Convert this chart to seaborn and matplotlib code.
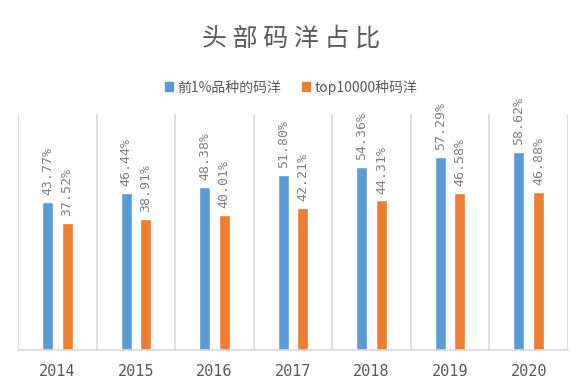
import numpy as np
import pandas as pd
import matplotlib
matplotlib.use("Agg")
import matplotlib.pyplot as plt
import seaborn as sns

# data
years = ["2014", "2015", "2016", "2017", "2018", "2019", "2020"]
top1pct = [43.77, 46.44, 48.38, 51.80, 54.36, 57.29, 58.62]
top10000 = [37.52, 38.91, 40.01, 42.21, 44.31, 46.58, 46.88]
series_names = ["前1%品种的码洋", "top10000种码洋"]

df = pd.DataFrame({
    "year": years * 2,
    "value": top1pct + top10000,
    "series": [series_names[0]] * len(years) + [series_names[1]] * len(years),
})

sns.set_theme(style="white")
plt.rcParams["font.family"] = ["Noto Sans CJK SC", "DejaVu Sans"]

BLUE = "#5B9BD5"
ORANGE = "#ED7D31"
GRAY_TXT = "#595959"
GRID = "#D9D9D9"

fig = plt.figure(figsize=(5.82, 3.82), dpi=100)
ax = fig.add_axes([0.031, 0.084, 0.945, 0.618])

sns.barplot(data=df, x="year", y="value", hue="series", order=years,
            hue_order=series_names, palette=[BLUE, ORANGE],
            width=0.5, gap=0.44, saturation=1, legend=False, ax=ax)

for cont in ax.containers:
    ax.bar_label(cont, labels=[f"{v:.2f}%" for v in cont.datavalues],
                 rotation=90, padding=5, fontsize=9.5, color="#808080",
                 family="DejaVu Sans Mono")

ax.set_ylim(0, 70)
ax.set_xlim(-0.5, len(years) - 0.5)
ax.set_yticks([])
ax.set_xlabel("")
ax.set_ylabel("")
for b in np.arange(-0.5, len(years), 1.0):
    ax.axvline(b, color=GRID, lw=1.2, zorder=0)
for s in ["top", "left", "right"]:
    ax.spines[s].set_visible(False)
ax.spines["bottom"].set_color(GRID)
ax.spines["bottom"].set_linewidth(1.2)
ax.tick_params(axis="x", length=0, pad=10, labelsize=11, labelcolor=GRAY_TXT)
for lbl in ax.get_xticklabels():
    lbl.set_family("DejaVu Sans Mono")

fig.text(0.5, 0.9, "头 部 码 洋 占 比", ha="center", va="center",
         fontsize=18, color=GRAY_TXT)

handles = [plt.Rectangle((0, 0), 1, 1, color=BLUE),
           plt.Rectangle((0, 0), 1, 1, color=ORANGE)]
fig.legend(handles, series_names, loc="center", bbox_to_anchor=(0.5, 0.772),
           ncol=2, frameon=False, fontsize=10, labelcolor=GRAY_TXT,
           handlelength=0.6, handleheight=0.6, handletextpad=0.3, columnspacing=1.5)

fig.savefig("out.png", dpi=100)
